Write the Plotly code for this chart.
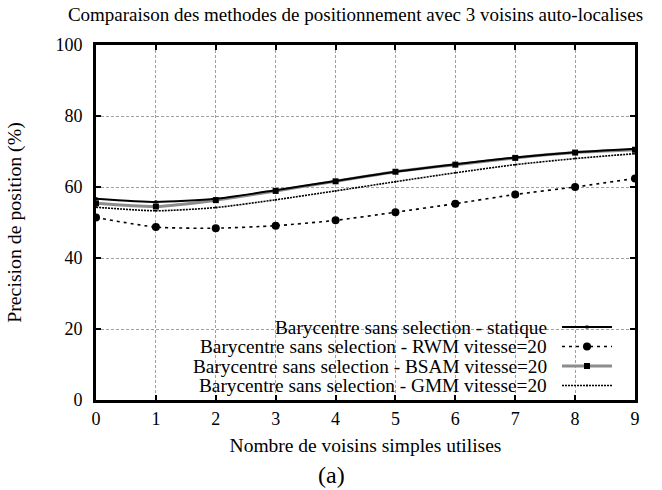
import plotly.graph_objects as go

# ---- data ----
voisins = [0, 1, 2, 3, 4, 5, 6, 7, 8, 9]
statique = [56.7, 55.8, 56.7, 59.1, 61.7, 64.3, 66.4, 68.3, 69.8, 70.8]
rwm = [51.4, 48.7, 48.4, 49.1, 50.6, 52.9, 55.3, 57.9, 60.0, 62.4]
bsam = [55.4, 54.5, 56.3, 58.9, 61.6, 64.3, 66.3, 68.2, 69.7, 70.5]
gmm = [54.3, 53.3, 54.2, 56.4, 58.9, 61.5, 64.0, 66.3, 68.0, 69.4]
names = [
    "Barycentre sans selection - statique",
    "Barycentre sans selection - RWM vitesse=20",
    "Barycentre sans selection - BSAM vitesse=20",
    "Barycentre sans selection - GMM vitesse=20",
]
y_ticks = [0, 20, 40, 60, 80, 100]

FONT = "Liberation Serif"

fig = go.Figure()
fig.add_trace(go.Scatter(x=voisins, y=bsam, mode="lines+markers", name=names[2],
                         line=dict(color="#8c8c8c", width=3, shape="spline", smoothing=0.6),
                         marker=dict(symbol="square", size=6, color="black")))
fig.add_trace(go.Scatter(x=voisins, y=gmm, mode="lines+markers", name=names[3],
                         line=dict(color="black", width=1.6, dash="2px,1px", shape="spline", smoothing=0.6),
                         marker=dict(symbol="circle", size=2, color="black")))
fig.add_trace(go.Scatter(x=voisins, y=rwm, mode="lines+markers", name=names[1],
                         line=dict(color="black", width=1.6, dash="3px,4px", shape="spline", smoothing=0.6),
                         marker=dict(symbol="circle", size=8, color="black")))
fig.add_trace(go.Scatter(x=voisins, y=statique, mode="lines+markers", name=names[0],
                         line=dict(color="black", width=2, shape="spline", smoothing=0.6),
                         marker=dict(symbol="square", size=3, color="black")))

# legend box (white, hides grid) and legend entries
L, R, T, B = 96, 635, 45, 400
def px(x):
    return (x - L) / (R - L)
def py(y):
    return (B - y) / (B - T)

shapes = [dict(type="rect", xref="paper", yref="paper", x0=0, x1=px(622), y0=0, y1=py(317),
               fillcolor="white", line=dict(width=0), layer="between")]
annotations = []
rows = [327, 346.5, 366, 385.5]
styles = [
    dict(color="black", width=2, dash="solid"),
    dict(color="black", width=1.6, dash="3px,4px"),
    dict(color="#8c8c8c", width=3, dash="solid"),
    dict(color="black", width=1.6, dash="2px,1px"),
]
for i, (nm, ry, st) in enumerate(zip(names, rows, styles)):
    annotations.append(dict(text=nm, xref="paper", yref="paper", x=px(549), y=py(ry),
                            xanchor="right", yanchor="middle", showarrow=False,
                            font=dict(family=FONT, size=19.3, color="black")))
    shapes.append(dict(type="line", xref="paper", yref="paper", x0=px(562), x1=px(612),
                       y0=py(ry), y1=py(ry), line=st, layer="above"))
mk = [("rect", 3), ("circle", 8), ("rect", 6), ("circle", 2)]
for (kind, s), ry in zip(mk, rows):
    shapes.append(dict(type=kind, xref="paper", yref="paper", xsizemode="pixel", ysizemode="pixel",
                       xanchor=px(587), yanchor=py(ry), x0=-s / 2, x1=s / 2, y0=-s / 2, y1=s / 2,
                       fillcolor="black", line=dict(width=0), layer="above"))

annotations.append(dict(text="(a)", xref="paper", yref="paper", x=px(331), y=py(475),
                        xanchor="center", yanchor="middle", showarrow=False,
                        font=dict(family=FONT, size=24, color="black")))

fig.update_layout(
    width=662, height=490,
    margin=dict(l=L, r=662 - R, t=T, b=490 - B),
    paper_bgcolor="white", plot_bgcolor="white",
    showlegend=False,
    font=dict(family=FONT, size=18, color="black"),
    title=dict(text="Comparaison des methodes de positionnement avec 3 voisins auto-localises",
               x=355.5 / 662, xanchor="center", y=1 - 14 / 490, yanchor="middle",
               font=dict(family=FONT, size=19, color="black")),
    shapes=shapes, annotations=annotations,
)
grid = dict(showgrid=True, gridcolor="#a0a0a0", gridwidth=1, griddash="3px,2px", zeroline=False,
            showline=True, linecolor="black", linewidth=3, mirror="ticks",
            ticks="inside", ticklen=5, tickwidth=1.5, tickcolor="black")
fig.update_xaxes(range=[0, 9], tickvals=voisins, **grid,
                 title=dict(text="Nombre de voisins simples utilises", standoff=11,
                            font=dict(family=FONT, size=19.5)),
                 tickfont=dict(family=FONT, size=18))
fig.update_yaxes(range=[0, 100], tickvals=y_ticks, **grid, ticklabelstandoff=7,
                 title=dict(text="Precision de position (%)", standoff=29,
                            font=dict(family=FONT, size=19.8)),
                 tickfont=dict(family=FONT, size=18))

fig.write_html("out.html", post_script="document.body.style.margin='0';",
               config={"displayModeBar": False})
